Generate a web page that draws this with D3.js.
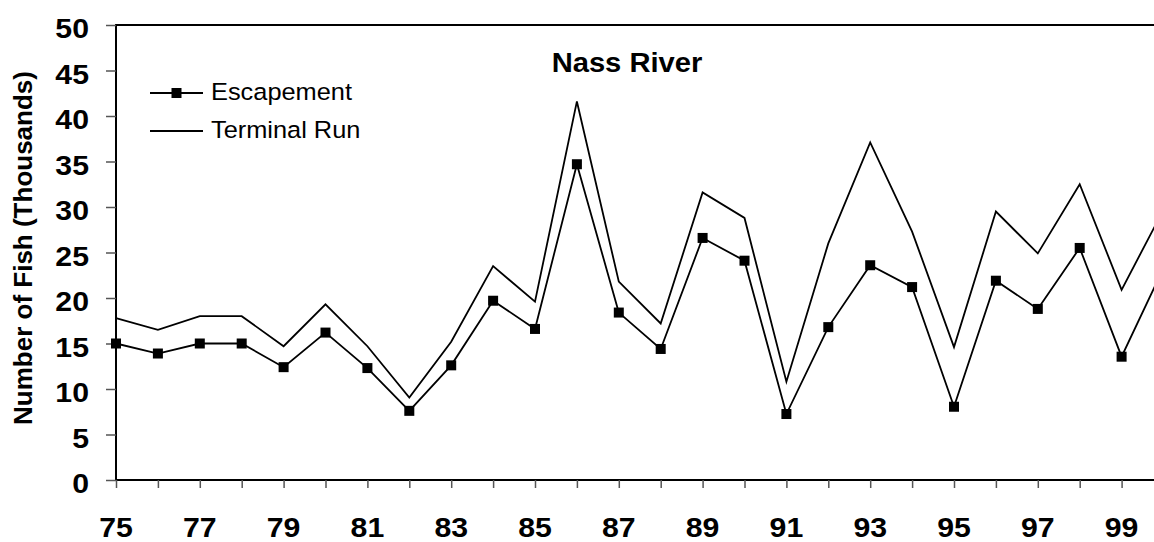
<!DOCTYPE html>
<html>
<head>
<meta charset="utf-8">
<script src="https://cdn.jsdelivr.net/npm/d3@7"></script>
<style>
  html, body { margin: 0; padding: 0; background: #fff; }
  svg { display: block; font-family: Arial, "Liberation Sans", sans-serif; }
</style>
</head>
<body>
<svg id="chart" width="1154" height="542"></svg>
<script>
const years = [75,76,77,78,79,80,81,82,83,84,85,86,87,88,89,90,91,92,93,94,95,96,97,98,99,100];
const escapement = [15.0,13.9,15.0,15.0,12.4,16.2,12.3,7.6,12.6,19.7,16.6,34.7,18.4,14.4,26.6,24.1,7.25,16.8,23.6,21.2,8.05,21.9,18.8,25.5,13.55,23.3];
const terminalRun = [17.8,16.5,18.0,18.0,14.7,19.3,14.7,9.05,15.2,23.5,19.6,41.6,21.8,17.2,31.6,28.8,10.8,26.0,37.1,27.3,14.6,29.5,24.9,32.5,20.9,29.7];
const yTicks = [0,5,10,15,20,25,30,35,40,45,50];
const xLabelYears = [75,77,79,81,83,85,87,89,91,93,95,97,99];
const title = "Nass River";
const yTitle = "Number of Fish (Thousands)";
const seriesNames = ["Escapement", "Terminal Run"];

const svg = d3.select("#chart");
const mLeft = 116, mRight = 1163.5, mTop = 25, mBottom = 480;
const SX = 1.08;

const x = d3.scaleLinear().domain([75, 100]).range([mLeft, mRight]);
const y = d3.scaleLinear().domain([0, 50]).range([mBottom, mTop]);

// plot border (top + left + bottom; right is outside the window)
svg.append("path")
  .attr("d", `M${mRight},${mTop}H${mLeft}V${mBottom}H${mRight}`)
  .attr("fill", "none").attr("stroke", "#000").attr("stroke-width", 2);

// y axis ticks + labels
const yAxis = d3.axisLeft(y).tickValues(yTicks).tickSize(10).tickFormat("");
const gy = svg.append("g").attr("transform", `translate(${mLeft},0)`).call(yAxis);
gy.select(".domain").remove();
gy.selectAll(".tick line").attr("stroke", "#555").attr("stroke-width", 1.5);
svg.append("g").selectAll("text").data(yTicks).join("text")
  .attr("transform", d => `translate(89,${y(d) + 13}) scale(${SX},1)`)
  .attr("text-anchor", "end")
  .attr("font-size", 28).attr("font-weight", "bold")
  .text(d => d);

// x axis ticks + labels
const xAxis = d3.axisBottom(x).tickValues(years).tickSize(8).tickFormat("");
const gx = svg.append("g").attr("transform", `translate(0,${mBottom})`).call(xAxis);
gx.select(".domain").remove();
gx.selectAll(".tick line").attr("stroke", "#555").attr("stroke-width", 1.5);
svg.append("g").selectAll("text").data(xLabelYears).join("text")
  .attr("transform", d => `translate(${x(d)},537) scale(${SX},1)`)
  .attr("text-anchor", "middle")
  .attr("font-size", 28).attr("font-weight", "bold")
  .text(d => d);

// lines
const line = d3.line().x((d, i) => x(years[i])).y(d => y(d));
svg.append("path").datum(terminalRun).attr("d", line)
  .attr("fill", "none").attr("stroke", "#000").attr("stroke-width", 1.8);
svg.append("path").datum(escapement).attr("d", line)
  .attr("fill", "none").attr("stroke", "#000").attr("stroke-width", 1.8);

const sq = 10;
svg.append("g").selectAll("rect").data(escapement).join("rect")
  .attr("x", (d, i) => x(years[i]) - sq / 2)
  .attr("y", d => y(d) - sq / 2)
  .attr("width", sq).attr("height", sq).attr("fill", "#000");

// title
svg.append("text")
  .attr("transform", `translate(627,72) scale(${SX},1)`)
  .attr("text-anchor", "middle")
  .attr("font-size", 27).attr("font-weight", "bold")
  .text(title);

// y title
svg.append("text")
  .attr("transform", "translate(32,248) rotate(-90)")
  .attr("text-anchor", "middle")
  .attr("font-size", 26).attr("font-weight", "bold")
  .text(yTitle);

// legend
const lg = svg.append("g");
const legY = [93, 131];
lg.selectAll("line").data(seriesNames).join("line")
  .attr("x1", 150).attr("x2", 203)
  .attr("y1", (d, i) => legY[i]).attr("y2", (d, i) => legY[i])
  .attr("stroke", "#000").attr("stroke-width", 1.8);
lg.append("rect").attr("x", 176.5 - sq / 2).attr("y", legY[0] - sq / 2)
  .attr("width", sq).attr("height", sq).attr("fill", "#000");
lg.selectAll("text").data(seriesNames).join("text")
  .attr("transform", (d, i) => `translate(211,${legY[i] + 7}) scale(${SX},1)`)
  .attr("font-size", 23.5)
  .text(d => d);
</script>
</body>
</html>
